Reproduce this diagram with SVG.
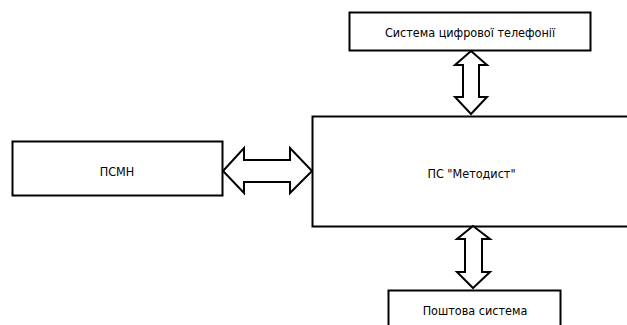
<svg xmlns="http://www.w3.org/2000/svg" width="627" height="325" viewBox="0 0 627 325">
<style>
.box{fill:#fff;stroke:#000;stroke-width:2}
.arr{fill:#fff;stroke:#000;stroke-width:2;stroke-linejoin:miter}
text{font-family:"DejaVu Sans Condensed","DejaVu Sans",sans-serif;font-stretch:condensed;font-size:12.5px;fill:#000;text-anchor:middle}
</style>
<rect width="627" height="325" fill="#fff"/>
<g id="top-node">
<rect class="box" x="349.5" y="12.5" width="241" height="38"/>
<text x="470" y="37">Система цифрової телефонії</text>
</g>
<g id="main-node">
<rect class="box" x="312.5" y="116.5" width="330" height="110"/>
<text x="471.5" y="178">ПС "Методист"</text>
</g>
<g id="left-node">
<rect class="box" x="12.5" y="141.5" width="210" height="54"/>
<text x="117" y="175.5">ПСМН</text>
</g>
<g id="bottom-node">
<rect class="box" x="388.5" y="290.5" width="172" height="50"/>
<text x="475" y="314.5">Поштова система</text>
</g>
<g id="connectors">
<polygon class="arr" points="471,51 487,65 479,65 479,97 487,97 471,114 455,97 463,97 463,65 455,65"/>
<polygon class="arr" points="473,226 490,239 482,239 482,272 490,272 473,288 457,272 465,272 465,239 457,239"/>
<polygon class="arr" points="223,171 244,148 244,160 290,160 290,148 312,171 290,193 290,182 244,182 244,193"/>
</g>
</svg>
